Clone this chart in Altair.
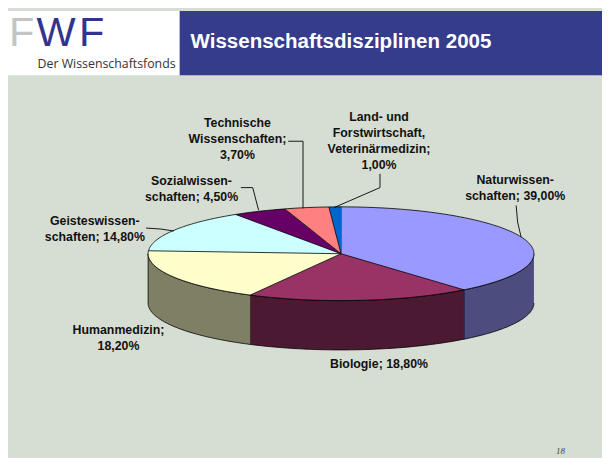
import altair as alt
import pandas as pd
import numpy as np

# ---------------- data ----------------
categories = [
    "Naturwissenschaften", "Biologie", "Humanmedizin", "Geisteswissenschaften",
    "Sozialwissenschaften", "Technische Wissenschaften",
    "Land- und Forstwirtschaft, Veterinärmedizin",
]
values = [39.0, 18.8, 18.2, 14.8, 4.5, 3.7, 1.0]
top_colors = ["#9999ff", "#993366", "#ffffcc", "#ccffff", "#660066", "#ff8080", "#0066cc"]
label_names = [
    "Naturwissen-\nschaften", "Biologie", "Humanmedizin", "Geisteswissen-\nschaften",
    "Sozialwissen-\nschaften", "Technische\nWissenschaften",
    "Land- und\nForstwirtschaft,\nVeterinärmedizin",
]
label_seps = [" ", " ", "\n", " ", " ", "\n", "\n"]
title_text = "Wissenschaftsdisziplinen 2005"
subtitle_text = "Der Wissenschaftsfonds"
page_no = "18"

# ---------------- layout (reference pixel space) ----------------
OFF = 8
W, H = 602, 450
CX, CY, RX, RY, DEPTH = 345.5, 254.0, 195.5, 47.5, 50.0
# centre of the first line of each label
label_pos = [(522, 179), (384, 366), (120, 331.7), (96, 221), (194, 180), (240.5, 121.7), (384, 115)]
leaders = [
    [(523, 205), (524.5, 222), (528, 237)],
    [],
    [],
    [(148, 228), (163, 229), (176, 231)],
    [(244, 187), (256, 187), (262, 210)],
    [(292, 140), (307, 140), (307, 208)],
    [(385, 173), (385, 187), (339, 207)],
]
BG = "#d6ddd3"
BLUE = "#363c8c"


def shade(hexcol, f=0.5):
    h = hexcol.lstrip("#")
    r, g, b = (int(h[i:i + 2], 16) for i in (0, 2, 4))
    return "#%02x%02x%02x" % (int(r * f), int(g * f), int(b * f))


def ell(a_deg, dy=0.0):
    a = np.radians(a_deg)
    return CX + RX * np.sin(a), CY - RY * np.cos(a) + dy


total = sum(values)
top_rows, side_rows = [], []
cum = 0.0
for k, (v, col) in enumerate(zip(values, top_colors)):
    a1 = cum / total * 360.0
    cum += v
    a2 = cum / total * 360.0
    n = max(2, int(np.ceil(a2 - a1)))
    pts = [(CX, CY)] + [ell(a) for a in np.linspace(a1, a2, n + 1)]
    for i, (x, y) in enumerate(pts):
        top_rows.append(dict(pid=k, i=i, x=x, y=y, col=col))
    s1, s2 = max(a1, 90.0), min(a2, 270.0)
    if s2 > s1:
        m = max(2, int(np.ceil(s2 - s1)))
        angs = np.linspace(s1, s2, m + 1)
        pts = [ell(a) for a in angs] + [ell(a, DEPTH) for a in angs[::-1]]
        for i, (x, y) in enumerate(pts):
            side_rows.append(dict(pid=k, i=i, x=x, y=y, col=shade(col)))

top_df = pd.DataFrame(top_rows)
side_df = pd.DataFrame(side_rows)

lead_rows = []
for k, pts in enumerate(leaders):
    for i, (x, y) in enumerate(pts):
        lead_rows.append(dict(lid=k, i=i, x=x, y=y))
lead_df = pd.DataFrame(lead_rows)

lab_rows = []
for name, sep, v, (x, y) in zip(label_names, label_seps, values, label_pos):
    pct = f"{v:.2f}".replace(".", ",") + "%"
    lab_rows.append(dict(text=name + ";" + sep + pct, x=x, y=y))
lab_df = pd.DataFrame(lab_rows)

xs = alt.Scale(domain=[OFF, OFF + W], nice=False, zero=False)
ys = alt.Scale(domain=[OFF, OFF + H], nice=False, zero=False, reverse=True)
X = alt.X("x:Q", scale=xs, axis=None)
Y = alt.Y("y:Q", scale=ys, axis=None)


def poly(df):
    return alt.Chart(df).mark_line(filled=True, stroke="black", strokeWidth=0.8,
                                   strokeJoin="round").encode(
        x=X, y=Y, color=alt.Color("col:N", scale=None, legend=None),
        detail="pid:N", order="i:Q")


sides = poly(side_df)
tops = poly(top_df)
lead = alt.Chart(lead_df).mark_line(color="black", strokeWidth=0.9).encode(
    x=X, y=Y, detail="lid:N", order="i:Q")
labels = alt.Chart(lab_df).mark_text(
    font="Liberation Sans", fontWeight="bold", fontSize=12.5, lineBreak="\n",
    lineHeight=16.3, align="center", baseline="middle", color="#111111").encode(
    x=X, y=Y, text="text:N")

one = pd.DataFrame({"a": [0]})


def px(v):
    return v - OFF


white_box = alt.Chart(one).mark_rect(color="white").encode(
    x=alt.value(0), x2=alt.value(px(182)), y=alt.value(0), y2=alt.value(px(73)))
blue_box = alt.Chart(one).mark_rect(color=BLUE).encode(
    x=alt.value(px(182)), x2=alt.value(W), y=alt.value(0), y2=alt.value(px(73)))
title = alt.Chart(one).mark_text(
    text=title_text, font="Liberation Sans", fontWeight="bold", fontSize=20.8,
    color="white", align="left", baseline="alphabetic").encode(
    x=alt.value(px(193)), y=alt.value(px(45.5)))
sub = alt.Chart(one).mark_text(
    text=subtitle_text, font="Open Sans", fontSize=12.5, color="#333333",
    align="left", baseline="middle").encode(x=alt.value(px(38)), y=alt.value(px(62)))
logo_f1 = alt.Chart(one).mark_text(
    text="F", font="Liberation Sans", fontSize=42, color="#c4c4c4",
    align="left", baseline="alphabetic").encode(x=alt.value(px(9)), y=alt.value(px(43)))
logo_w = alt.Chart(one).mark_text(
    text="W", font="Liberation Sans", fontSize=42, color="#33338f",
    align="left", baseline="alphabetic").encode(x=alt.value(px(37)), y=alt.value(px(43)))
logo_f2 = alt.Chart(one).mark_text(
    text="F", font="Liberation Sans", fontSize=42, color="#33338f",
    align="left", baseline="alphabetic").encode(x=alt.value(px(80)), y=alt.value(px(43)))
pageno = alt.Chart(one).mark_text(
    text=page_no, font="Liberation Serif", fontStyle="italic", fontSize=9,
    color="#444444", align="center", baseline="middle").encode(
    x=alt.value(px(568)), y=alt.value(px(454)))

chart = alt.layer(
    white_box, blue_box, logo_f1, logo_w, logo_f2, sub, title,
    sides, tops, lead, labels, pageno,
).properties(
    width=W, height=H, background=BG, padding=0,
    autosize=alt.AutoSizeParams(type="none"),
).configure_view(stroke=None)

chart.save("out.html", embed_options={"renderer": "svg", "actions": False})
